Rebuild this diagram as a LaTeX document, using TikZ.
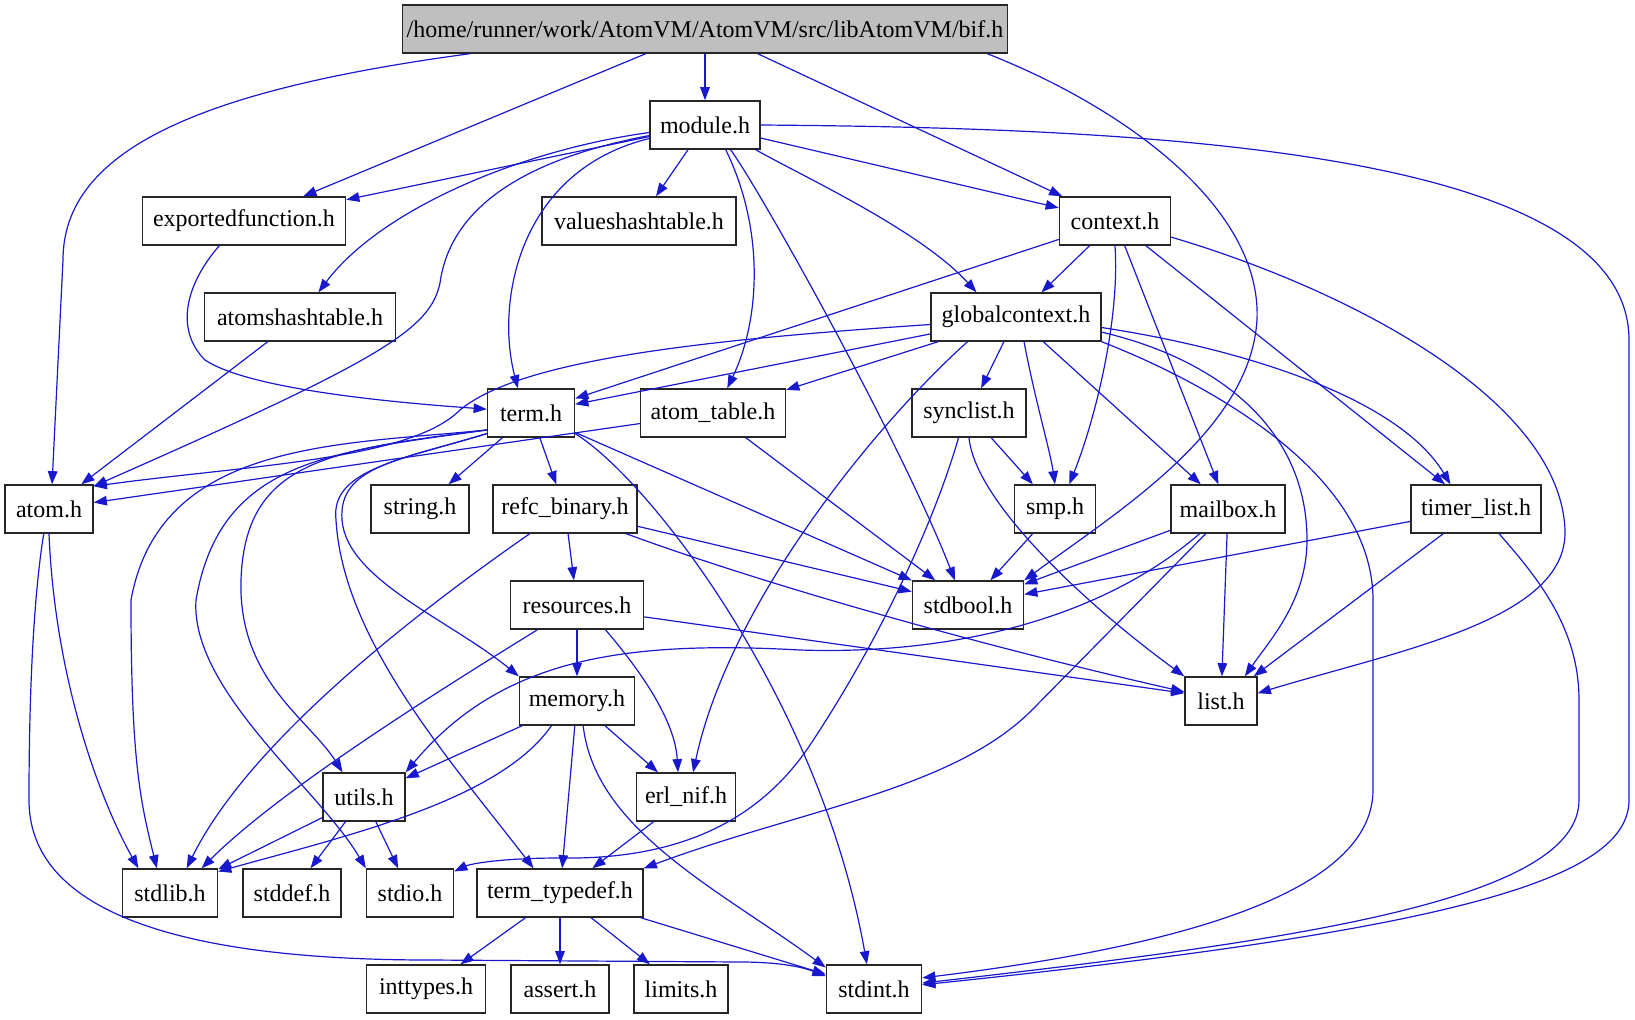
\documentclass[tikz,border=0pt]{standalone}
\usepackage{fontspec}
\setmainfont{Liberation Serif}
\usetikzlibrary{arrows.meta}
\definecolor{cEdge}{HTML}{1818CC}
\definecolor{cRoot}{HTML}{BFBFBF}

\begin{document}
\begin{tikzpicture}[
  x=0.5pt, y=-0.5pt,
  >={Triangle[length=6.6pt, width=4.8pt]},
  file/.style={draw=black!85, line width=0.7pt, fill=white,
               font=\fontsize{12pt}{14pt}\selectfont,
               minimum height=24pt, inner xsep=2pt, inner ysep=0pt},
  root/.style={file, fill=cRoot},
  inc/.style={->, draw=cEdge, line width=0.6pt},
]
\useasboundingbox (0,0) rectangle (1635,1019);

% ====================== files ==========================================
\node[root, minimum width=287.5pt] (bif) at (705,29)
  {/home/runner/work/AtomVM/AtomVM/src/libAtomVM/bif.h};
\node[file, minimum width=55pt]   (module)    at (705,125)  {module.h};
\node[file, minimum width=101.5pt] (expfun)   at (244,221)  {exportedfunction.h};
\node[file, minimum width=97pt]   (valhash)   at (639,221)  {valueshashtable.h};
\node[file, minimum width=55.5pt] (context)   at (1115,221) {context.h};
\node[file, minimum width=95.5pt] (atomhash)  at (300,317)  {atomshashtable.h};
\node[file, minimum width=85pt]   (globalctx) at (1016,317) {globalcontext.h};
\node[file, minimum width=43.5pt] (term)      at (531,413)  {term.h};
\node[file, minimum width=72.5pt] (atomtab)   at (713,413)  {atom\_table.h};
\node[file, minimum width=57pt]   (synclist)  at (969,413)  {synclist.h};
\node[file, minimum width=44pt]   (atom)      at (49,509)   {atom.h};
\node[file, minimum width=49pt]   (string)    at (420,509)  {string.h};
\node[file, minimum width=72pt]   (refc)      at (565,509)  {refc\_binary.h};
\node[file, minimum width=40.5pt] (smp)       at (1055,509) {smp.h};
\node[file, minimum width=57pt]   (mailbox)   at (1228,509) {mailbox.h};
\node[file, minimum width=65pt]   (timer)     at (1476,509) {timer\_list.h};
\node[file, minimum width=66.5pt] (resources) at (577,605)  {resources.h};
\node[file, minimum width=55.5pt] (stdbool)   at (968,605)  {stdbool.h};
\node[file, minimum width=57.5pt] (memory)    at (577,701)  {memory.h};
\node[file, minimum width=36pt]   (list)      at (1221,701) {list.h};
\node[file, minimum width=41pt]   (utils)     at (364,797)  {utils.h};
\node[file, minimum width=49.5pt] (erlnif)    at (686,797)  {erl\_nif.h};
\node[file, minimum width=47.5pt] (stdlib)    at (170,893)  {stdlib.h};
\node[file, minimum width=49pt]   (stddef)    at (292,893)  {stddef.h};
\node[file, minimum width=43.5pt] (stdio)     at (410,893)  {stdio.h};
\node[file, minimum width=83pt]   (termtd)    at (560,893)  {term\_typedef.h};
\node[file, minimum width=59.5pt] (inttypes)  at (426,989)  {inttypes.h};
\node[file, minimum width=49pt]   (assert)    at (560,989)  {assert.h};
\node[file, minimum width=47pt]   (limits)    at (681,989)  {limits.h};
\node[file, minimum width=47.5pt] (stdint)    at (874,989)  {stdint.h};

% ====================== bif.h ==========================================
\draw[inc] (bif.186) .. controls (200,90) and (63,150) .. (63,260) -- (atom.83);
\draw[inc] (bif) -- (expfun);
\draw[inc] (bif) -- (module);
\draw[inc] (bif) -- (context);
\draw[inc] (bif.-5.8) .. controls (1130,110) and (1262,210) .. (1257,320)
  .. controls (1250,430) and (1120,510) .. (stdbool.north east);

% ====================== module.h =======================================
\draw[inc] (module) -- (expfun);
\draw[inc] (module) -- (valhash);
\draw[inc] (module) .. controls (520,150) and (380,210) .. (atomhash);
\draw[inc] (module) .. controls (520,160) and (450,210) .. (440,283)
  .. controls (430,330) and (380,360) .. (atom.27);
\draw[inc] (module) .. controls (520,170) and (495,300) .. (term.118);
\draw[inc] (module.-50) .. controls (765,230) and (760,320) .. (atomtab.60);
\draw[inc] (module.-44) .. controls (760,190) and (900,440) .. (stdbool.118);
\draw[inc] (module.-26) .. controls (800,175) and (920,230) .. (globalctx.148);
\draw[inc] (module) -- (context);
\draw[inc] (module.east) .. controls (1150,128) and (1629,150) .. (1629,340)
  -- (1629,800) .. controls (1629,880) and (1450,930) .. (stdint.5);

% ====================== exportedfunction.h / atomshashtable.h ==========
\draw[inc] (expfun.-135) .. controls (185,285) and (175,330) .. (205,360)
  .. controls (250,390) and (400,403) .. (term.175);
\draw[inc] (atomhash) -- (atom);

% ====================== context.h ======================================
\draw[inc] (context) -- (globalctx);
\draw[inc] (context) -- (term);
\draw[inc] (context.south) .. controls (1120,320) and (1095,420) .. (smp.60);
\draw[inc] (context) -- (mailbox);
\draw[inc] (context) -- (timer);
\draw[inc] (context.-16) .. controls (1350,290) and (1560,400) .. (1565,530)
  .. controls (1568,620) and (1400,650) .. (list.12);

% ====================== globalcontext.h ================================
\draw[inc] (globalctx) -- (synclist);
\draw[inc] (globalctx.-72) .. controls (1035,400) and (1050,450) .. (smp.north);
\draw[inc] (globalctx) -- (mailbox);
\draw[inc] (globalctx.-7) .. controls (1250,350) and (1400,400) .. (timer.136);
\draw[inc] (globalctx.-10) .. controls (1220,360) and (1307,430) .. (1307,540)
  .. controls (1307,600) and (1270,640) .. (list.46);
\draw[inc] (globalctx.south east) .. controls (1200,380) and (1373,470) .. (1373,600)
  -- (1373,790) .. controls (1373,900) and (1150,950) .. (stdint.13);
\draw[inc] (globalctx) -- (term);
\draw[inc] (globalctx) -- (atomtab);
\draw[inc] (globalctx.185) .. controls (700,340) and (520,360) .. (460,410)
  .. controls (410,460) and (250,465) .. (atom.27);
\draw[inc] (globalctx.-153) .. controls (880,420) and (730,600) .. (erlnif.74);

% ====================== term.h =========================================
\draw[inc] (term) -- (string);
\draw[inc] (term) -- (refc);
\draw[inc] (term.201) .. controls (340,445) and (160,440) .. (131,600)
  .. controls (131,760) and (140,800) .. (stdlib.118);
\draw[inc] (term.201) .. controls (330,452) and (220,460) .. (196,600)
  .. controls (190,690) and (320,790) .. (stdio.north west);
\draw[inc] (term.201) .. controls (330,450) and (245,460) .. (241,580)
  .. controls (238,680) and (310,720) .. (utils.131);
\draw[inc] (term.205) .. controls (400,460) and (338,466) .. (342,520)
  .. controls (347,580) and (450,620) .. (memory.north west);
\draw[inc] (term.205) .. controls (400,460) and (330,470) .. (336,520)
  .. controls (343,640) and (450,760) .. (termtd.137);
\draw[inc] (term.-25) .. controls (650,480) and (820,700) .. (stdint.106);
\draw[inc] (term) -- (stdbool);

% ====================== atom_table.h / synclist.h / atom.h =============
\draw[inc] (atomtab) -- (atom);
\draw[inc] (atomtab) -- (stdbool);
\draw[inc] (synclist) -- (smp);
\draw[inc] (synclist.south) .. controls (975,500) and (1080,600) .. (list.north west);
\draw[inc] (synclist.-113) .. controls (935,520) and (880,640) .. (810,745)
  .. controls (760,820) and (680,860) .. (560,858)
  .. controls (500,858) and (470,864) .. (stdio.26);
\draw[inc] (atom.south) .. controls (55,680) and (100,800) .. (stdlib.142);
\draw[inc] (atom.-102) .. controls (33,600) and (29,700) .. (29,800)
  .. controls (29,900) and (150,960) .. (430,960) -- (740,962)
  .. controls (790,962) and (810,970) .. (stdint.165);

% ====================== refc_binary.h / smp.h / mailbox.h / timer_list.h
\draw[inc] (refc) -- (resources);
\draw[inc] (refc.-145) .. controls (420,610) and (250,740) .. (stdlib.56);
\draw[inc] (refc) -- (stdbool);
\draw[inc] (refc.-22) .. controls (780,590) and (1000,650) .. (list.166);
\draw[inc] (smp) -- (stdbool);
\draw[inc] (mailbox) -- (stdbool);
\draw[inc] (mailbox) -- (list);
\draw[inc] (mailbox.-139) .. controls (1100,620) and (950,655) .. (800,650)
  .. controls (620,640) and (500,660) .. (utils.north east);
\draw[inc] (mailbox.-132) -- (1030,712)
  .. controls (950,790) and (800,810) .. (termtd.north east);
\draw[inc] (timer) -- (stdbool);
\draw[inc] (timer) -- (list);
\draw[inc] (timer.-47) .. controls (1540,580) and (1579,630) .. (1579,700)
  -- (1579,800) .. controls (1579,900) and (1300,940) .. (stdint.7);

% ====================== resources.h / memory.h =========================
\draw[inc] (resources) -- (memory);
\draw[inc] (resources.-148) .. controls (440,690) and (280,790) .. (stdlib.38);
\draw[inc] (resources.-41) .. controls (640,670) and (675,720) .. (erlnif.108);
\draw[inc] (resources.-10) -- (list.168);
\draw[inc] (memory) -- (utils);
\draw[inc] (memory.-136) .. controls (500,800) and (350,835) .. (stdlib.24);
\draw[inc] (memory) -- (termtd);
\draw[inc] (memory) -- (erlnif);
\draw[inc] (memory.-76) .. controls (595,830) and (720,890) .. (stdint.156);

% ====================== utils.h / erl_nif.h / term_typedef.h ===========
\draw[inc] (utils) -- (stdlib);
\draw[inc] (utils) -- (stddef);
\draw[inc] (utils) -- (stdio);
\draw[inc] (erlnif) -- (termtd);
\draw[inc] (termtd) -- (inttypes);
\draw[inc] (termtd) -- (assert);
\draw[inc] (termtd) -- (limits);
\draw[inc] (termtd) -- (stdint);

\end{tikzpicture}
\end{document}
